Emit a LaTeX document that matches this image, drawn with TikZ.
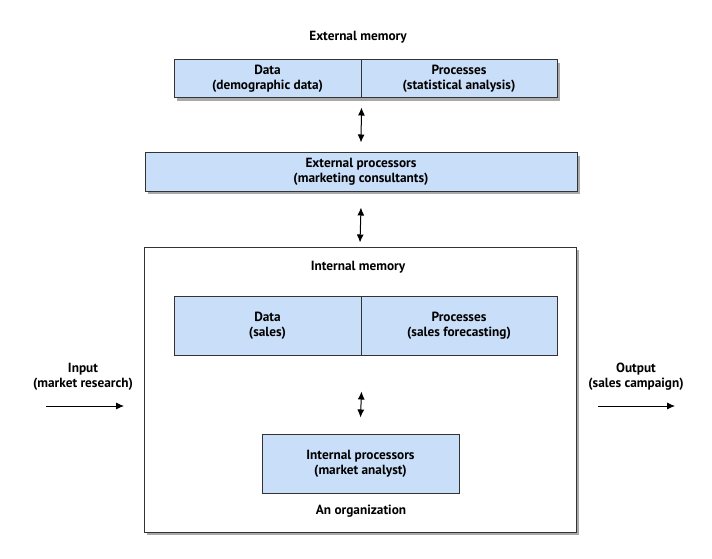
\documentclass[tikz,border=0pt]{standalone}
\usepackage{fontspec}
\setmainfont{PT Sans}[BoldFont={PT Sans Bold}]
\usetikzlibrary{arrows.meta,shadows}
\definecolor{boxblue}{HTML}{C9DEF8}
\definecolor{edge}{HTML}{333333}
\tikzset{
  lbl/.style={font=\bfseries\fontsize{13.3}{15}\selectfont, align=center, text=black},
  half/.style={draw=edge, line width=1pt, fill=boxblue, inner sep=0pt, lbl},
  outer/.style={draw=edge, line width=1pt, inner sep=0pt,
    drop shadow={shadow xshift=2.5pt, shadow yshift=-3pt, opacity=0.45, fill=black!75}},
  dbl/.style={{Latex[length=8pt,width=7pt]}-{Latex[length=8pt,width=7pt]}, line width=1pt},
  one/.style={-{Latex[length=8pt,width=7pt]}, line width=0.9pt}
}
\begin{document}
\begin{tikzpicture}[x=1pt,y=-1pt]
\path[use as bounding box] (0,0) rectangle (712,559);

% External memory
\node[lbl] (extlbl) at (358,37) {External memory};
\node[outer, fill=boxblue, minimum width=383pt, minimum height=38pt] (extmem) at (365.5,79) {};
\node[half, minimum width=187pt, minimum height=38pt] (exdata) at (267.5,79) {Data\\(demographic data)};
\node[half, minimum width=196pt, minimum height=38pt] (exproc) at (459,79) {Processes\\(statistical analysis)};

% External processors
\node[outer, fill=boxblue, minimum width=432pt, minimum height=38pt, lbl] (extproc) at (361,172) {External processors\\(marketing consultants)};

% Organization
\node[outer, fill=white, minimum width=432pt, minimum height=285pt] (org) at (360,389.5) {};
\node[lbl] (intlbl) at (358,267) {Internal memory};
\node[half, minimum width=187pt, minimum height=59pt] (indata) at (267.5,325.5) {Data\\(sales)};
\node[half, minimum width=196pt, minimum height=59pt] (inproc) at (459,325.5) {Processes\\(sales forecasting)};
\node[half, minimum width=197pt, minimum height=59pt] (inprocs) at (360.5,463.5) {Internal processors\\(market analyst)};
\node[lbl] (orglbl) at (361,511) {An organization};

% vertical double arrows
\draw[dbl] ([yshift=-9pt]exdata.south east) -- ([yshift=10pt]extproc.north);
\draw[dbl] ([yshift=-16pt]extproc.south) -- ([yshift=4pt]org.north);
\draw[dbl] ([yshift=-36pt]indata.south east) -- ([yshift=16pt]inprocs.north);

% Input / Output
\node[lbl] (inlbl) at (83,376.5) {Input\\(market research)};
\node[lbl] (outlbl) at (636,376.5) {Output\\(sales campaign)};
\coordinate (inS) at (46,406);
\coordinate (inE) at (124,406);
\coordinate (outS) at (598,406);
\coordinate (outE) at (675,406);
\draw[one] (inS) -- (inE);
\draw[one] (outS) -- (outE);
\end{tikzpicture}
\end{document}
